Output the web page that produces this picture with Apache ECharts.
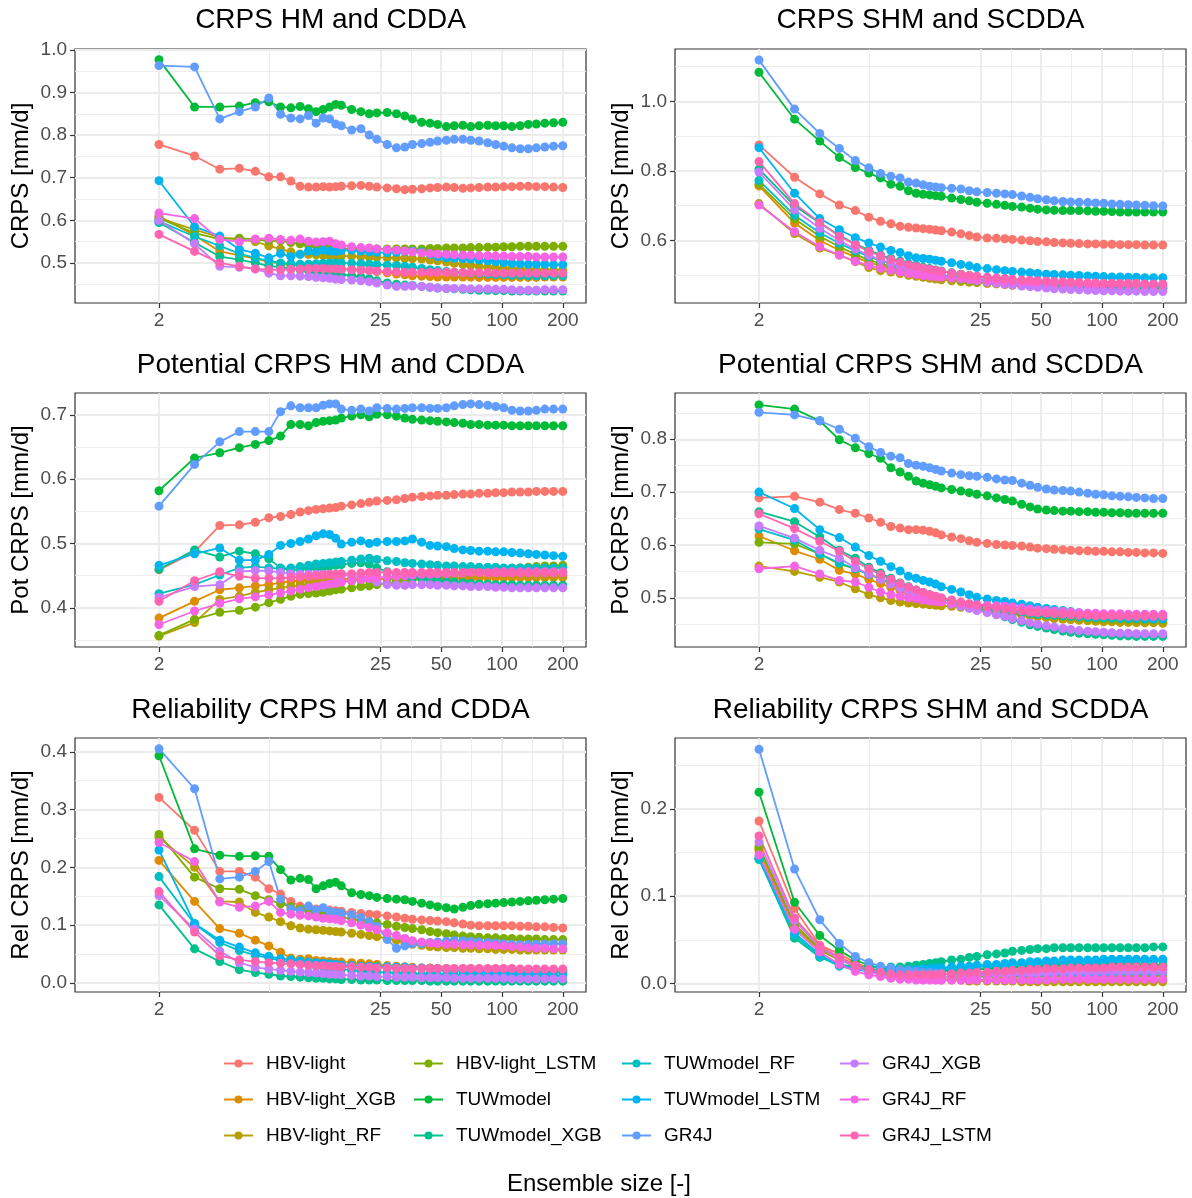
<!DOCTYPE html>
<html>
<head>
<meta charset="utf-8">
<title>CRPS versus ensemble size</title>
<script src="https://cdn.jsdelivr.net/npm/echarts@6/dist/echarts.min.js"></script>
<style>
  html, body { margin: 0; padding: 0; background: #ffffff; }
  #chart { width: 1192px; height: 1198px; }
</style>
</head>
<body>
<div id="chart"></div>
<script>
// Ensemble sizes at which the scores are plotted
const ensembleSize = [2,3,4,5,6,7,8,9,10,11,12,13,14,15,16,18,20,22,24,27,30,33,36,40,44,48,53,58,64,70,77,85,93,102,112,123,135,148,163,180,200];

const models = ['HBV-light','HBV-light_XGB','HBV-light_RF','HBV-light_LSTM','TUWmodel','TUWmodel_XGB','TUWmodel_RF','TUWmodel_LSTM','GR4J','GR4J_XGB','GR4J_RF','GR4J_LSTM'];
const modelColors = ['#F8766D','#DE8C00','#B79F00','#7CAE00','#00BA38','#00C08B','#00BFC4','#00B4F0','#619CFF','#C77CFF','#F564E3','#FF64B0'];

// x tick labels (log axis)
const xTickValues = [2, 25, 50, 100, 200];

// CRPS, HM and CDDA [mm/d]; one row per model, same order as `models`
const crpsHM = [
  [.778,.751,.720,.722,.715,.702,.702,.692,.680,.678,.678,.679,.678,.679,.680,.681,.682,.680,.678,.676,.674,.672,.673,.674,.676,.677,.678,.677,.675,.676,.677,.678,.678,.679,.679,.680,.680,.679,.679,.678,.677],
  [.610,.565,.527,.518,.510,.503,.498,.495,.494,.492,.490,.489,.488,.487,.486,.485,.484,.482,.480,.477,.474,.472,.470,.469,.468,.467,.467,.467,.467,.467,.466,.466,.466,.466,.466,.466,.466,.466,.467,.467,.467],
  [.605,.578,.560,.555,.550,.540,.533,.526,.521,.520,.519,.518,.517,.517,.516,.516,.515,.514,.513,.512,.512,.511,.510,.509,.507,.505,.502,.499,.496,.494,.492,.490,.488,.487,.486,.485,.484,.484,.483,.483,.483],
  [.605,.570,.556,.558,.555,.552,.552,.548,.545,.542,.540,.538,.536,.535,.534,.533,.533,.533,.533,.533,.533,.533,.533,.533,.534,.534,.535,.535,.535,.536,.536,.537,.537,.538,.538,.539,.539,.539,.539,.539,.539],
  [.977,.866,.866,.868,.876,.878,.866,.864,.867,.862,.855,.860,.866,.872,.870,.860,.855,.850,.852,.853,.850,.845,.838,.830,.828,.825,.820,.822,.823,.820,.822,.823,.822,.822,.820,.822,.825,.826,.828,.829,.830],
  [.595,.548,.515,.508,.500,.493,.490,.487,.484,.482,.480,.478,.476,.474,.472,.470,.467,.463,.458,.453,.450,.448,.447,.445,.443,.441,.440,.439,.438,.437,.436,.436,.435,.435,.434,.434,.434,.434,.434,.434,.434],
  [.598,.562,.540,.522,.512,.505,.500,.498,.497,.497,.498,.499,.500,.500,.500,.499,.498,.497,.496,.495,.494,.492,.490,.487,.484,.482,.480,.478,.477,.476,.475,.474,.473,.472,.471,.471,.470,.470,.470,.470,.470],
  [.693,.585,.563,.532,.523,.512,.522,.515,.520,.528,.526,.530,.528,.527,.529,.530,.528,.526,.525,.524,.525,.527,.528,.526,.520,.515,.512,.511,.510,.509,.507,.505,.503,.501,.499,.498,.497,.497,.497,.496,.496],
  [.963,.960,.838,.855,.866,.887,.849,.840,.838,.846,.828,.840,.838,.826,.822,.812,.815,.800,.790,.778,.770,.772,.778,.780,.783,.786,.788,.790,.790,.788,.786,.782,.778,.774,.770,.768,.768,.770,.772,.774,.775],
  [.600,.545,.492,.490,.486,.476,.470,.470,.469,.468,.466,.465,.464,.462,.461,.460,.458,.456,.453,.448,.445,.445,.446,.445,.443,.441,.440,.440,.440,.439,.439,.439,.438,.438,.437,.436,.436,.436,.437,.437,.437],
  [.617,.604,.555,.550,.556,.558,.555,.553,.556,.551,.549,.550,.551,.545,.542,.538,.536,.535,.533,.531,.530,.528,.526,.524,.522,.521,.520,.519,.518,.518,.517,.517,.516,.516,.515,.515,.515,.514,.514,.514,.514],
  [.567,.527,.500,.492,.486,.484,.484,.485,.486,.487,.487,.487,.486,.486,.485,.484,.483,.482,.481,.480,.479,.478,.478,.478,.478,.478,.478,.478,.477,.477,.477,.477,.476,.476,.476,.476,.476,.476,.476,.476,.476]
];

// CRPS, SHM and SCDDA [mm/d]
const crpsSHM = [
  [.875,.782,.734,.702,.686,.667,.655,.648,.641,.638,.636,.634,.632,.630,.628,.624,.619,.614,.610,.607,.606,.605,.603,.601,.599,.597,.596,.594,.593,.592,.591,.590,.590,.589,.589,.588,.588,.588,.587,.587,.587],
  [.757,.650,.600,.572,.552,.537,.527,.519,.513,.508,.504,.500,.497,.494,.492,.488,.485,.482,.480,.477,.475,.473,.471,.470,.468,.467,.466,.465,.465,.464,.464,.463,.463,.463,.462,.462,.462,.462,.462,.462,.462],
  [.706,.620,.578,.558,.539,.522,.513,.509,.505,.500,.497,.494,.491,.489,.487,.484,.482,.480,.479,.477,.476,.475,.474,.473,.472,.471,.470,.469,.468,.467,.466,.465,.464,.463,.462,.462,.461,.461,.461,.461,.460],
  [.762,.662,.612,.582,.560,.544,.533,.525,.518,.512,.507,.503,.500,.497,.494,.490,.487,.484,.482,.479,.477,.475,.473,.472,.470,.469,.468,.467,.466,.466,.465,.465,.464,.464,.464,.463,.463,.463,.463,.463,.463],
  [1.084,.949,.886,.839,.810,.794,.780,.762,.756,.743,.736,.733,.731,.729,.727,.722,.718,.714,.710,.707,.704,.701,.698,.696,.693,.690,.688,.687,.686,.686,.686,.685,.684,.684,.683,.682,.682,.682,.682,.682,.682],
  [.805,.700,.650,.615,.590,.572,.558,.548,.540,.533,.528,.523,.519,.515,.512,.507,.503,.499,.496,.492,.489,.486,.484,.481,.479,.477,.475,.474,.472,.471,.470,.469,.468,.468,.467,.467,.466,.466,.466,.466,.466],
  [.773,.672,.622,.592,.570,.554,.542,.533,.526,.520,.515,.511,.507,.504,.501,.497,.494,.491,.489,.486,.484,.482,.480,.478,.477,.476,.475,.474,.473,.473,.472,.472,.471,.471,.471,.470,.470,.470,.470,.470,.470],
  [.867,.736,.663,.631,.608,.593,.581,.571,.565,.556,.550,.548,.546,.543,.540,.536,.531,.527,.522,.519,.516,.513,.511,.509,.507,.505,.503,.502,.501,.500,.499,.498,.497,.496,.495,.495,.494,.494,.493,.493,.493],
  [1.119,.978,.908,.865,.830,.809,.793,.785,.780,.768,.765,.760,.756,.754,.752,.750,.748,.743,.740,.738,.736,.734,.732,.728,.724,.720,.717,.714,.712,.711,.710,.709,.708,.707,.705,.704,.703,.702,.701,.700,.699],
  [.797,.688,.635,.600,.575,.557,.544,.534,.526,.519,.514,.509,.505,.502,.499,.494,.490,.487,.484,.480,.477,.474,.472,.469,.467,.465,.463,.461,.460,.459,.458,.457,.456,.455,.455,.454,.454,.454,.453,.453,.453],
  [.702,.625,.582,.558,.540,.528,.520,.514,.509,.505,.502,.499,.497,.495,.494,.492,.490,.488,.487,.485,.484,.483,.482,.481,.480,.479,.478,.477,.477,.476,.475,.475,.474,.474,.473,.473,.473,.472,.472,.472,.472],
  [.827,.706,.652,.612,.588,.568,.556,.545,.537,.530,.525,.521,.517,.514,.511,.506,.502,.499,.497,.494,.492,.490,.488,.486,.485,.484,.483,.482,.481,.480,.479,.478,.478,.477,.477,.476,.476,.476,.475,.475,.475]
];

// Potential CRPS, HM and CDDA [mm/d]
const potHM = [
  [.459,.487,.528,.529,.533,.540,.542,.545,.549,.551,.553,.554,.555,.556,.558,.560,.562,.564,.566,.567,.568,.570,.572,.573,.574,.575,.575,.576,.577,.577,.578,.578,.579,.579,.580,.580,.580,.581,.581,.581,.581],
  [.384,.410,.428,.431,.434,.436,.439,.441,.442,.443,.444,.444,.445,.445,.445,.445,.445,.445,.445,.445,.445,.445,.446,.446,.446,.446,.446,.446,.446,.446,.446,.447,.447,.447,.447,.447,.447,.447,.447,.447,.447],
  [.356,.377,.413,.418,.424,.428,.431,.433,.435,.436,.437,.438,.439,.440,.441,.442,.443,.443,.444,.445,.446,.447,.448,.449,.450,.451,.452,.452,.453,.453,.453,.453,.453,.453,.452,.452,.451,.451,.450,.450,.450],
  [.357,.382,.393,.396,.401,.408,.413,.418,.421,.422,.423,.424,.426,.428,.429,.431,.433,.434,.436,.438,.440,.442,.444,.446,.448,.450,.451,.453,.454,.455,.457,.458,.459,.460,.461,.462,.463,.464,.465,.465,.466],
  [.582,.633,.641,.649,.654,.660,.667,.685,.685,.683,.688,.690,.691,.692,.695,.698,.700,.697,.701,.700,.698,.695,.693,.692,.691,.690,.689,.688,.687,.685,.685,.684,.684,.684,.683,.683,.683,.683,.683,.683,.683],
  [.460,.490,.479,.488,.484,.476,.462,.458,.460,.462,.462,.463,.465,.466,.467,.469,.470,.468,.462,.456,.452,.450,.447,.445,.443,.442,.441,.440,.439,.438,.437,.437,.436,.436,.436,.435,.435,.435,.435,.435,.435],
  [.422,.436,.451,.462,.464,.462,.461,.462,.464,.466,.468,.469,.470,.471,.472,.474,.476,.477,.475,.473,.472,.470,.469,.468,.467,.466,.465,.465,.464,.464,.463,.463,.463,.462,.462,.462,.462,.462,.462,.462,.462],
  [.466,.484,.493,.474,.474,.483,.497,.500,.503,.507,.512,.515,.514,.508,.499,.502,.504,.500,.502,.503,.503,.504,.507,.502,.497,.496,.495,.492,.490,.489,.488,.488,.487,.487,.486,.485,.484,.483,.482,.481,.480],
  [.558,.623,.658,.674,.674,.674,.705,.714,.711,.711,.711,.715,.717,.717,.709,.707,.709,.706,.711,.710,.709,.710,.711,.711,.710,.710,.711,.714,.716,.717,.716,.715,.713,.711,.707,.706,.706,.707,.709,.709,.709],
  [.416,.433,.436,.456,.458,.457,.455,.453,.452,.452,.452,.452,.452,.451,.451,.450,.449,.446,.440,.436,.435,.435,.436,.436,.436,.435,.435,.434,.434,.433,.433,.433,.432,.432,.431,.431,.431,.431,.431,.431,.431],
  [.374,.395,.407,.414,.417,.420,.423,.426,.429,.431,.433,.435,.437,.438,.440,.442,.444,.446,.447,.448,.449,.450,.451,.452,.452,.453,.453,.454,.454,.455,.455,.455,.456,.456,.456,.456,.456,.456,.456,.456,.456],
  [.410,.442,.456,.449,.446,.446,.446,.447,.448,.449,.450,.451,.452,.452,.453,.453,.454,.455,.455,.455,.455,.455,.455,.455,.455,.455,.455,.455,.455,.455,.455,.454,.454,.454,.454,.454,.454,.454,.454,.454,.454]
];

// Potential CRPS, SHM and SCDDA [mm/d]
const potSHM = [
  [.689,.692,.681,.667,.660,.651,.643,.635,.632,.629,.629,.628,.626,.623,.619,.615,.612,.608,.605,.603,.601,.600,.599,.598,.596,.594,.593,.592,.591,.590,.589,.589,.588,.588,.587,.587,.586,.586,.585,.585,.584],
  [.617,.589,.573,.552,.545,.535,.527,.520,.514,.509,.505,.501,.498,.495,.493,.489,.485,.482,.480,.477,.474,.472,.470,.468,.466,.464,.463,.461,.460,.459,.458,.457,.456,.455,.455,.454,.454,.454,.453,.453,.453],
  [.560,.550,.539,.530,.517,.506,.500,.495,.492,.490,.489,.488,.487,.486,.485,.484,.482,.481,.479,.477,.475,.473,.471,.469,.467,.465,.463,.462,.460,.459,.458,.457,.456,.455,.455,.454,.454,.453,.453,.453,.452],
  [.605,.602,.583,.564,.555,.545,.537,.529,.523,.517,.512,.508,.504,.501,.498,.494,.490,.487,.484,.481,.478,.476,.474,.472,.470,.469,.467,.466,.465,.464,.463,.462,.461,.461,.460,.460,.459,.459,.459,.459,.459],
  [.865,.857,.835,.799,.784,.773,.764,.746,.738,.730,.721,.717,.714,.711,.708,.705,.702,.699,.696,.693,.689,.686,.683,.677,.672,.668,.666,.665,.664,.664,.663,.663,.662,.662,.661,.661,.660,.660,.660,.660,.660],
  [.663,.644,.615,.590,.575,.558,.547,.537,.528,.521,.515,.510,.506,.502,.499,.494,.489,.485,.480,.475,.470,.464,.459,.454,.449,.446,.443,.440,.437,.435,.433,.432,.431,.430,.429,.428,.428,.427,.427,.427,.427],
  [.630,.609,.583,.566,.555,.544,.536,.528,.521,.516,.511,.507,.504,.501,.498,.494,.490,.487,.485,.482,.479,.477,.475,.473,.471,.469,.468,.467,.466,.465,.464,.463,.463,.462,.462,.461,.461,.461,.460,.460,.460],
  [.700,.669,.629,.614,.596,.580,.569,.559,.551,.541,.537,.533,.530,.526,.521,.516,.511,.506,.501,.498,.495,.493,.490,.488,.485,.482,.480,.478,.476,.474,.472,.470,.468,.467,.466,.465,.464,.463,.462,.461,.461],
  [.851,.846,.835,.819,.802,.786,.775,.768,.765,.754,.751,.749,.746,.743,.740,.736,.733,.731,.730,.728,.725,.723,.722,.717,.713,.709,.706,.704,.703,.702,.700,.698,.696,.695,.693,.692,.691,.690,.689,.688,.688],
  [.636,.613,.590,.575,.557,.545,.535,.526,.519,.512,.507,.503,.499,.496,.493,.488,.484,.480,.476,.472,.468,.465,.461,.457,.453,.450,.447,.445,.442,.440,.438,.437,.436,.435,.434,.433,.433,.432,.432,.432,.432],
  [.555,.560,.545,.533,.530,.520,.511,.506,.503,.500,.498,.496,.494,.493,.492,.490,.489,.488,.487,.486,.485,.484,.483,.481,.479,.477,.476,.475,.474,.473,.472,.471,.471,.470,.470,.470,.469,.469,.469,.469,.469],
  [.659,.631,.607,.588,.569,.555,.544,.535,.527,.520,.515,.510,.506,.503,.500,.496,.492,.489,.486,.483,.481,.479,.477,.475,.473,.472,.471,.470,.469,.468,.467,.467,.466,.466,.466,.465,.465,.465,.465,.465,.465]
];

// Reliability CRPS, HM and CDDA [mm/d]
const relHM = [
  [.321,.264,.193,.193,.183,.163,.154,.141,.133,.130,.128,.127,.126,.125,.124,.122,.120,.119,.118,.116,.114,.112,.110,.109,.108,.107,.106,.104,.102,.100,.099,.099,.099,.099,.099,.098,.098,.097,.097,.096,.095],
  [.212,.141,.094,.086,.074,.064,.053,.043,.041,.042,.039,.038,.037,.036,.036,.035,.034,.033,.032,.030,.029,.028,.027,.026,.026,.025,.025,.024,.024,.024,.023,.023,.022,.022,.022,.021,.021,.021,.020,.020,.020],
  [.252,.200,.141,.140,.122,.114,.106,.099,.095,.093,.092,.091,.090,.089,.088,.086,.084,.082,.080,.077,.074,.070,.067,.065,.063,.062,.061,.061,.060,.060,.059,.059,.058,.058,.058,.057,.057,.057,.057,.057,.057],
  [.257,.183,.163,.162,.151,.144,.137,.132,.128,.125,.122,.120,.118,.116,.114,.111,.108,.106,.104,.101,.098,.096,.094,.092,.089,.087,.085,.083,.081,.080,.079,.078,.078,.077,.077,.076,.076,.076,.075,.075,.075],
  [.393,.232,.221,.219,.220,.219,.196,.178,.181,.179,.163,.168,.172,.174,.168,.156,.153,.151,.148,.146,.145,.144,.141,.138,.135,.132,.130,.128,.131,.134,.136,.137,.138,.139,.140,.141,.142,.143,.144,.145,.146],
  [.135,.059,.037,.023,.018,.015,.012,.011,.010,.009,.008,.008,.007,.007,.006,.006,.005,.005,.005,.004,.004,.004,.004,.004,.003,.003,.003,.003,.003,.003,.003,.003,.003,.003,.003,.003,.003,.003,.003,.003,.003],
  [.184,.102,.070,.056,.048,.043,.039,.036,.033,.031,.029,.028,.026,.025,.024,.022,.021,.020,.019,.018,.017,.016,.016,.015,.015,.014,.014,.014,.013,.013,.013,.013,.012,.012,.012,.012,.012,.012,.012,.012,.012],
  [.230,.103,.074,.062,.052,.046,.042,.040,.038,.036,.035,.034,.033,.032,.031,.030,.029,.029,.028,.028,.027,.027,.026,.026,.025,.024,.023,.022,.021,.020,.020,.019,.019,.018,.018,.018,.018,.018,.018,.018,.018],
  [.405,.336,.180,.183,.193,.210,.145,.128,.125,.133,.126,.130,.124,.122,.121,.118,.113,.106,.098,.075,.060,.064,.068,.068,.070,.071,.072,.073,.073,.072,.071,.070,.069,.068,.067,.066,.066,.067,.067,.068,.068],
  [.151,.093,.055,.035,.027,.024,.022,.020,.019,.018,.017,.016,.015,.015,.014,.013,.012,.012,.011,.011,.010,.010,.010,.009,.009,.009,.009,.008,.008,.008,.008,.008,.008,.008,.007,.007,.007,.007,.007,.007,.007],
  [.243,.210,.140,.131,.133,.141,.122,.119,.117,.116,.114,.112,.111,.110,.108,.104,.100,.096,.092,.087,.082,.077,.073,.071,.069,.068,.067,.067,.066,.066,.065,.065,.065,.064,.063,.062,.061,.060,.060,.059,.059],
  [.158,.088,.047,.040,.037,.035,.034,.033,.032,.031,.030,.030,.029,.029,.028,.028,.027,.027,.026,.026,.025,.025,.025,.025,.025,.025,.025,.025,.025,.025,.025,.025,.025,.025,.025,.024,.024,.024,.024,.024,.024]
];

// Reliability CRPS, SHM and SCDDA [mm/d]
const relSHM = [
  [.186,.086,.044,.034,.024,.018,.015,.013,.012,.011,.011,.011,.011,.011,.011,.011,.012,.012,.012,.013,.013,.014,.014,.015,.015,.015,.016,.016,.016,.016,.016,.016,.016,.016,.016,.016,.016,.016,.016,.016,.016],
  [.152,.064,.040,.030,.022,.016,.012,.010,.009,.008,.007,.007,.006,.006,.005,.005,.005,.004,.004,.004,.004,.004,.004,.003,.003,.003,.003,.003,.003,.003,.003,.003,.003,.003,.003,.003,.003,.003,.003,.003,.003],
  [.155,.065,.038,.027,.020,.015,.011,.009,.008,.007,.006,.005,.005,.005,.004,.004,.004,.003,.003,.003,.003,.003,.003,.002,.002,.002,.002,.002,.002,.002,.002,.002,.002,.002,.002,.002,.002,.002,.002,.002,.002],
  [.157,.068,.040,.029,.021,.016,.013,.011,.010,.009,.009,.008,.008,.008,.008,.008,.008,.008,.008,.008,.008,.008,.008,.008,.009,.009,.009,.009,.009,.009,.009,.009,.009,.009,.009,.009,.009,.009,.009,.009,.009],
  [.219,.093,.055,.038,.027,.021,.018,.016,.015,.014,.014,.014,.014,.014,.014,.015,.015,.016,.016,.017,.018,.018,.019,.019,.020,.020,.021,.021,.021,.021,.021,.021,.021,.021,.021,.021,.021,.021,.021,.021,.021],
  [.143,.052,.030,.022,.019,.019,.019,.019,.019,.020,.021,.022,.023,.024,.025,.027,.028,.030,.031,.033,.034,.035,.037,.038,.039,.040,.040,.041,.041,.041,.041,.041,.041,.041,.041,.041,.041,.041,.041,.042,.042],
  [.142,.055,.031,.020,.016,.014,.013,.013,.013,.014,.014,.015,.015,.016,.016,.017,.018,.019,.019,.020,.021,.021,.022,.022,.023,.023,.024,.024,.024,.025,.025,.025,.025,.025,.026,.026,.026,.026,.026,.026,.026],
  [.145,.058,.033,.021,.017,.015,.015,.015,.015,.016,.016,.017,.017,.018,.018,.019,.020,.020,.021,.022,.022,.023,.024,.024,.025,.025,.026,.026,.027,.027,.027,.027,.027,.028,.028,.028,.028,.028,.028,.028,.028],
  [.268,.131,.073,.046,.031,.024,.020,.018,.016,.015,.014,.013,.013,.012,.012,.011,.011,.011,.011,.011,.011,.011,.011,.011,.011,.011,.011,.011,.011,.011,.011,.011,.011,.012,.012,.012,.012,.012,.012,.012,.012],
  [.162,.072,.042,.028,.019,.013,.010,.008,.007,.007,.007,.007,.007,.007,.008,.008,.008,.009,.009,.010,.010,.011,.011,.012,.012,.013,.013,.013,.014,.014,.014,.014,.015,.015,.015,.015,.015,.015,.015,.015,.015],
  [.147,.062,.036,.022,.014,.010,.008,.006,.005,.005,.004,.004,.004,.004,.004,.004,.004,.004,.004,.004,.004,.004,.004,.004,.004,.004,.004,.005,.005,.005,.005,.005,.005,.005,.005,.005,.005,.005,.005,.005,.005],
  [.169,.075,.043,.030,.021,.016,.013,.011,.010,.010,.010,.010,.010,.010,.011,.011,.012,.012,.013,.013,.014,.014,.015,.015,.016,.016,.017,.017,.017,.018,.018,.018,.018,.018,.019,.019,.019,.019,.019,.019,.019]
];

// Panel texts and y-axis ticks
const panelTitles = ['CRPS HM and CDDA','CRPS SHM and SCDDA','Potential CRPS HM and CDDA','Potential CRPS SHM and SCDDA','Reliability CRPS HM and CDDA','Reliability CRPS SHM and SCDDA'];
const yAxisTitles = ['CRPS [mm/d]','CRPS [mm/d]','Pot CRPS [mm/d]','Pot CRPS [mm/d]','Rel CRPS [mm/d]','Rel CRPS [mm/d]'];
const yMajorTicks = [
  [0.5,0.6,0.7,0.8,0.9,1.0],
  [0.6,0.8,1.0],
  [0.4,0.5,0.6,0.7],
  [0.5,0.6,0.7,0.8],
  [0.0,0.1,0.2,0.3,0.4],
  [0.0,0.1,0.2]
];
const yMinorTicks = [
  [0.45,0.55,0.65,0.75,0.85,0.95],
  [0.5,0.7,0.9,1.1],
  [0.35,0.45,0.55,0.65],
  [0.45,0.55,0.65,0.75,0.85],
  [0.05,0.15,0.25,0.35],
  [0.05,0.15,0.25]
];
const yRanges = [[0.406,1.002],[0.420,1.151],[0.339,0.734],[0.407,0.8875],[-0.0157,0.4238],[-0.0096,0.281]];

const panelData = [crpsHM, crpsSHM, potHM, potSHM, relHM, relSHM];

// ---- layout ----
const FONT = '"Liberation Sans", Arial, Helvetica, sans-serif';
const colLeft = [75, 675];
const rowTop = [49, 393, 738];
const PW = 511, PH = 254;
const titleTop = [6, 351, 696];
const GRID_MAJOR = { color: '#EBEBEB', width: 1.8 };
const GRID_MINOR = { color: '#EBEBEB', width: 0.9 };
const TICK_STYLE = { color: '#333333', width: 1.2 };

// x extent: log10 range of [1, 200] widened by 5 % on both ends
const logSpan = Math.log10(200);
const xMin = Math.pow(10, -0.05 * logSpan);
const xMax = Math.pow(10, logSpan * 1.05);
// minor grid lines sit half-way (in log space) between the labelled ticks
const xMinor = xTickValues.slice(1).map((v, i) => Math.sqrt(v * xTickValues[i]));

const grids = [], xAxes = [], yAxes = [], series = [], graphics = [], titles = [];

panelData.forEach((rows, p) => {
  const col = p % 2, row = Math.floor(p / 2);
  grids.push({
    left: colLeft[col], top: rowTop[row], width: PW, height: PH,
    show: true, borderColor: '#333333', borderWidth: 1.2, backgroundColor: 'transparent',
    containLabel: false, outerBoundsMode: 'none'
  });

  // labelled x axis
  xAxes.push({
    gridIndex: p, type: 'log', logBase: 10, min: xMin, max: xMax, position: 'bottom',
    axisLine: { show: false, onZero: false },
    axisTick: { show: true, customValues: xTickValues, length: 5, inside: false, lineStyle: TICK_STYLE },
    axisLabel: {
      show: true, customValues: xTickValues, margin: 8,
      formatter: v => String(Math.round(v)),
      color: '#4D4D4D', fontSize: 19, fontFamily: FONT
    },
    splitLine: { show: true, lineStyle: GRID_MAJOR },
    minorTick: { show: false }, minorSplitLine: { show: false }
  });
  // minor x grid lines
  xAxes.push({
    gridIndex: p, type: 'log', logBase: 10, min: xMin, max: xMax, position: 'top',
    axisLine: { show: false, onZero: false },
    axisTick: { show: false, customValues: xMinor },
    axisLabel: { show: false, customValues: xMinor },
    splitLine: { show: true, lineStyle: GRID_MINOR }
  });

  // labelled y axis
  yAxes.push({
    gridIndex: p, type: 'value', min: yRanges[p][0], max: yRanges[p][1], position: 'left',
    axisLine: { show: false, onZero: false },
    axisTick: { show: true, customValues: yMajorTicks[p], length: 5, inside: false, lineStyle: TICK_STYLE },
    axisLabel: {
      show: true, customValues: yMajorTicks[p], margin: 8,
      formatter: v => Number(v).toFixed(1),
      color: '#4D4D4D', fontSize: 19, fontFamily: FONT
    },
    splitLine: { show: true, lineStyle: GRID_MAJOR }
  });
  // minor y grid lines
  yAxes.push({
    gridIndex: p, type: 'value', min: yRanges[p][0], max: yRanges[p][1], position: 'right',
    axisLine: { show: false, onZero: false },
    axisTick: { show: false, customValues: yMinorTicks[p] },
    axisLabel: { show: false, customValues: yMinorTicks[p] },
    splitLine: { show: true, lineStyle: GRID_MINOR }
  });

  rows.forEach((vals, m) => {
    series.push({
      type: 'line', name: models[m],
      xAxisIndex: 2 * p, yAxisIndex: 2 * p,
      data: ensembleSize.map((n, i) => [n, vals[i]]),
      symbol: 'circle', symbolSize: 9, showSymbol: true, showAllSymbol: true,
      lineStyle: { width: 1.8, color: modelColors[m] },
      itemStyle: { color: modelColors[m], borderWidth: 0 },
      emphasis: { disabled: true }, silent: true, clip: false,
      animation: false
    });
  });

  titles.push({
    text: panelTitles[p], left: colLeft[col] + PW / 2, top: titleTop[row],
    textAlign: 'center', padding: 0,
    textStyle: { fontSize: 28, fontWeight: 'normal', color: '#000000', fontFamily: FONT }
  });

  graphics.push({
    type: 'text', x: colLeft[col] - 53.5, y: rowTop[row] + PH / 2, rotation: Math.PI / 2,
    style: {
      text: yAxisTitles[p], fontSize: 24, fontFamily: FONT, fill: '#000000',
      align: 'center', verticalAlign: 'middle', textAlign: 'center', textVerticalAlign: 'middle'
    }
  });
});

titles.push({
  text: 'Ensemble size [-]', left: 599, top: 1172, textAlign: 'center', padding: 0,
  textStyle: { fontSize: 24, fontWeight: 'normal', color: '#000000', fontFamily: FONT }
});

// legend: four columns of three keys each
const legendLeft = [223, 413, 621, 839];
const legends = legendLeft.map((left, c) => ({
  orient: 'vertical', left: left, top: 1054, padding: 0,
  itemWidth: 29, itemHeight: 10, itemGap: 17,
  selectedMode: false,
  data: models.slice(3 * c, 3 * c + 3),
  textStyle: { fontSize: 19, color: '#000000', fontFamily: FONT, padding: [0, 0, 0, 8] }
}));

const chart = echarts.init(document.getElementById('chart'), null, { renderer: 'canvas' });
chart.setOption({
  animation: false,
  backgroundColor: '#ffffff',
  title: titles,
  legend: legends,
  grid: grids,
  xAxis: xAxes,
  yAxis: yAxes,
  series: series,
  graphic: graphics
});
</script>
</body>
</html>
